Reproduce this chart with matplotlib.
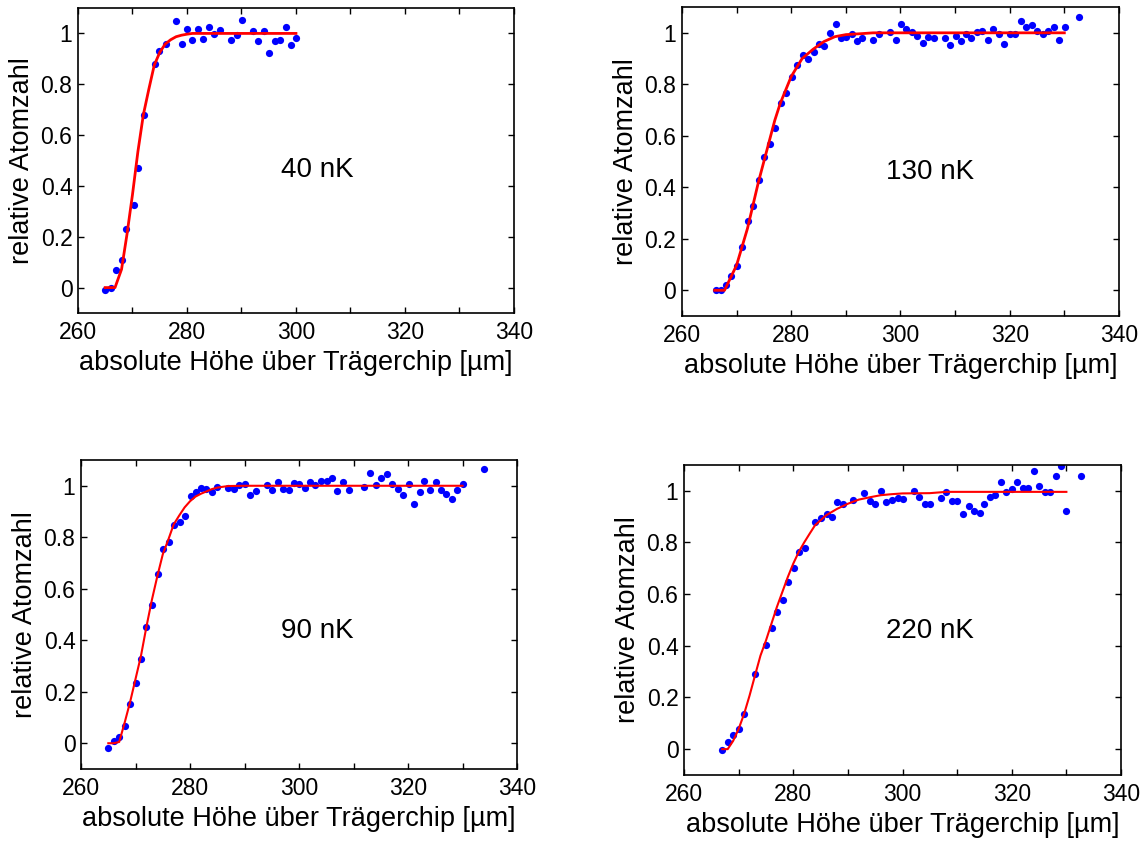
import matplotlib
matplotlib.use("Agg")
import matplotlib.pyplot as plt
from matplotlib.ticker import MultipleLocator

plt.rcParams['font.family'] = ['Liberation Sans', 'DejaVu Sans']

# ---------------- 40 nK ----------------
x40 = [265, 266, 267, 268.1, 268.9, 270.2, 271, 272.1, 274.1, 274.9, 276.1, 278.05, 279, 280.1,
       281, 282.1, 283, 284.05, 285, 286.1, 288.1, 289.1, 290.1, 292.1, 293.05, 294.1, 295,
       296.1, 297, 298.1, 299, 300.1]
y40 = [-0.01, 0.0, 0.07, 0.11, 0.23, 0.325, 0.47, 0.68, 0.88, 0.93, 0.96, 1.05, 0.96, 1.017,
       0.974, 1.017, 0.978, 1.026, 0.997, 1.013, 0.974, 0.993, 1.053, 1.008, 0.969, 1.011, 0.922,
       0.969, 0.974, 1.026, 0.956, 0.982]
fx40 = [265, 266, 266.8, 268, 269, 270, 271, 272, 273, 274, 275, 276, 277, 278, 279, 280, 281, 300]
fy40 = [0.0, 0.0, 0.0, 0.072, 0.21, 0.365, 0.535, 0.68, 0.78, 0.875, 0.925, 0.958, 0.975, 0.987,
        0.993, 0.997, 1.0, 1.0]

# ---------------- 130 nK ----------------
x130 = [266.2, 267.1, 268.1, 269, 270.1, 271, 272.1, 273.1, 274.1, 275.05, 276.1, 277.1, 278.2,
        279.1, 280.1, 281, 282.1, 283.1, 284.1, 285.1, 286.1, 287.1, 288.15, 289.1, 290.1, 291.1,
        292.05, 293, 295, 296, 298.1, 299.1, 300.1, 301.1, 302.1, 303, 304.1, 305, 306.1, 308.1,
        309, 310.1, 311, 312, 313, 314.05, 315, 316.1, 317, 318.1, 319, 320, 320.9, 322.05, 323,
        324.05, 325, 326.05, 327, 328.1, 329, 330.1, 332.7]
y130 = [0.0, 0.003, 0.019, 0.054, 0.096, 0.167, 0.271, 0.327, 0.427, 0.517, 0.568, 0.629, 0.729,
        0.765, 0.829, 0.875, 0.913, 0.898, 0.926, 0.956, 0.949, 0.999, 1.034, 0.979, 0.983, 0.997,
        0.970, 0.979, 0.973, 0.994, 1.003, 0.974, 1.034, 1.016, 1.003, 0.988, 0.960, 0.983, 0.979,
        0.979, 0.951, 0.988, 0.970, 0.997, 0.979, 1.003, 1.008, 0.974, 1.013, 0.994, 0.956, 0.997,
        0.997, 1.044, 1.022, 1.030, 1.008, 0.997, 1.008, 1.022, 0.974, 1.022, 1.060]
fx130 = [266, 267, 267.8, 270, 272, 274, 276, 277, 278, 280, 282, 284, 286, 288, 290, 293, 295, 330]
fy130 = [0.0, 0.0, 0.0, 0.097, 0.24, 0.42, 0.58, 0.66, 0.726, 0.83, 0.90, 0.936, 0.966, 0.985,
         0.993, 0.997, 1.0, 1.0]

# ---------------- 90 nK ----------------
x90 = [265, 266.06, 267, 268.1, 269, 270.1, 271, 272, 273, 274.1, 275, 276.1, 277, 278.1, 279,
       280.1, 281.05, 282.1, 282.95, 284.1, 285, 287, 288, 289, 290.1, 291, 292.1, 294.1, 295.1,
       296.05, 297, 298.1, 299.05, 300, 301.05, 302.1, 303, 304.1, 305.1, 306.1, 307.05, 308.1,
       309.1, 312, 313.05, 314.1, 315, 316.1, 317, 318.1, 319.05, 320.1, 321, 322.1, 323, 324.1,
       325.05, 326.1, 327, 328.1, 329, 330.1, 333.9]
y90 = [-0.017, 0.009, 0.026, 0.068, 0.153, 0.234, 0.329, 0.452, 0.537, 0.657, 0.755, 0.783,
       0.847, 0.860, 0.884, 0.960, 0.974, 0.993, 0.988, 0.974, 0.997, 0.993, 0.988, 1.003, 1.007,
       0.963, 0.979, 1.003, 0.983, 1.013, 0.988, 0.983, 1.012, 1.007, 0.993, 1.013, 1.003, 1.017,
       1.017, 1.030, 0.979, 1.013, 0.984, 0.997, 1.050, 1.003, 1.029, 1.044, 1.008, 0.988, 0.963,
       1.007, 0.931, 0.974, 1.017, 0.983, 1.013, 0.983, 0.969, 0.950, 0.983, 1.007, 1.064]
fx90 = [265, 266, 267, 268, 269, 270, 271, 272, 273, 274, 275, 276, 277, 278, 279, 280, 281, 282,
        283, 284, 285, 287, 290, 330]
fy90 = [0.0, 0.0, 0.005, 0.08, 0.16, 0.25, 0.34, 0.453, 0.557, 0.649, 0.734, 0.79, 0.85, 0.884,
        0.916, 0.94, 0.958, 0.969, 0.978, 0.987, 0.993, 0.999, 1.0, 1.0]

# ---------------- 220 nK ----------------
x220 = [266.95, 268.05, 268.96, 270.1, 271, 273, 275, 276.1, 277, 278.1, 279, 280.1, 281, 282.1,
        284, 285.06, 286.1, 287.1, 288.05, 289.1, 291, 293, 294, 295, 296, 297, 298.1, 299.1,
        300.06, 302.1, 303, 304.1, 305, 307, 308.05, 309, 310.06, 311, 312.1, 313, 314.1, 315,
        316, 316.95, 318.05, 318.96, 320.06, 320.98, 322.07, 323, 324.1, 324.9, 326, 326.95,
        328.05, 328.96, 330, 332.7]
y220 = [-0.003, 0.028, 0.056, 0.078, 0.136, 0.291, 0.404, 0.468, 0.530, 0.578, 0.648, 0.700,
        0.762, 0.780, 0.880, 0.893, 0.912, 0.898, 0.955, 0.948, 0.965, 0.992, 0.960, 0.948, 0.999,
        0.955, 0.966, 0.972, 0.969, 0.999, 0.977, 0.948, 0.948, 0.974, 0.994, 0.960, 0.960, 0.912,
        0.940, 0.921, 0.916, 0.948, 0.977, 0.984, 1.035, 0.996, 1.008, 1.035, 1.012, 1.012, 1.076,
        1.017, 0.994, 0.994, 1.058, 1.097, 0.921, 1.058]
fx220 = [267, 268, 269, 270, 271, 272, 273, 274, 275, 276, 277, 278, 279, 280, 281, 282, 283, 284,
         285, 286, 288, 290, 292, 294, 296, 298, 300, 305, 308, 330]
fy220 = [0.0, 0.0, 0.032, 0.078, 0.136, 0.207, 0.285, 0.362, 0.42, 0.485, 0.55, 0.608, 0.666,
         0.718, 0.763, 0.80, 0.834, 0.867, 0.886, 0.905, 0.93, 0.95, 0.966, 0.975, 0.983, 0.987,
         0.99, 0.991, 0.996, 0.996]

labels = ["40 nK", "130 nK", "90 nK", "220 nK"]
xlabel = "absolute Höhe über Trägerchip [µm]"
ylabel = "relative Atomzahl"
xticks = [260, 280, 300, 320, 340]
yticks = [0, 0.2, 0.4, 0.6, 0.8, 1]
yticklabels = ["0", "0.2", "0.4", "0.6", "0.8", "1"]

panels = [
    (x40, y40, fx40, fy40, labels[0], (303.9, 0.463), [0.0679, 0.6287, 0.3798, 0.3618], 2.0),
    (x130, y130, fx130, fy130, labels[1], (305.5, 0.46), [0.5940, 0.6251, 0.3807, 0.3665], 2.0),
    (x90, y90, fx90, fy90, labels[2], (303.4, 0.437), [0.0706, 0.0878, 0.3798, 0.3665], 1.5),
    (x220, y220, fx220, fy220, labels[3], (305.0, 0.457), [0.5958, 0.0807, 0.3807, 0.3677], 1.5),
]

fig = plt.figure(figsize=(11.48, 8.43), dpi=100)
for xs, ys, fxs, fys, lab, tpos, rect, lw in panels:
    ax = fig.add_axes(rect)
    ax.plot(xs, ys, 'o', color='#0000ff', markersize=5.2, markeredgewidth=0, zorder=2)
    ax.plot(fxs, fys, '-', color='#ff0000', linewidth=lw, zorder=3)
    ax.set_xlim(260, 340)
    ax.set_ylim(-0.1, 1.1)
    ax.set_xticks(xticks)
    ax.xaxis.set_minor_locator(MultipleLocator(10))
    ax.set_yticks(yticks)
    ax.set_yticklabels(yticklabels)
    ax.tick_params(which='both', direction='in', top=True, right=True, length=4, width=1.0,
                   labelsize=16.5)
    ax.tick_params(axis='y', pad=4)
    ax.tick_params(axis='x', pad=6)
    for s in ax.spines.values():
        s.set_linewidth(1.2)
    ax.set_xlabel(xlabel, fontsize=19.5, labelpad=4)
    ax.set_ylabel(ylabel, fontsize=19.5, labelpad=4)
    ax.text(tpos[0], tpos[1], lab, fontsize=20, ha='center', va='center')

fig.savefig("out.png", dpi=100)
